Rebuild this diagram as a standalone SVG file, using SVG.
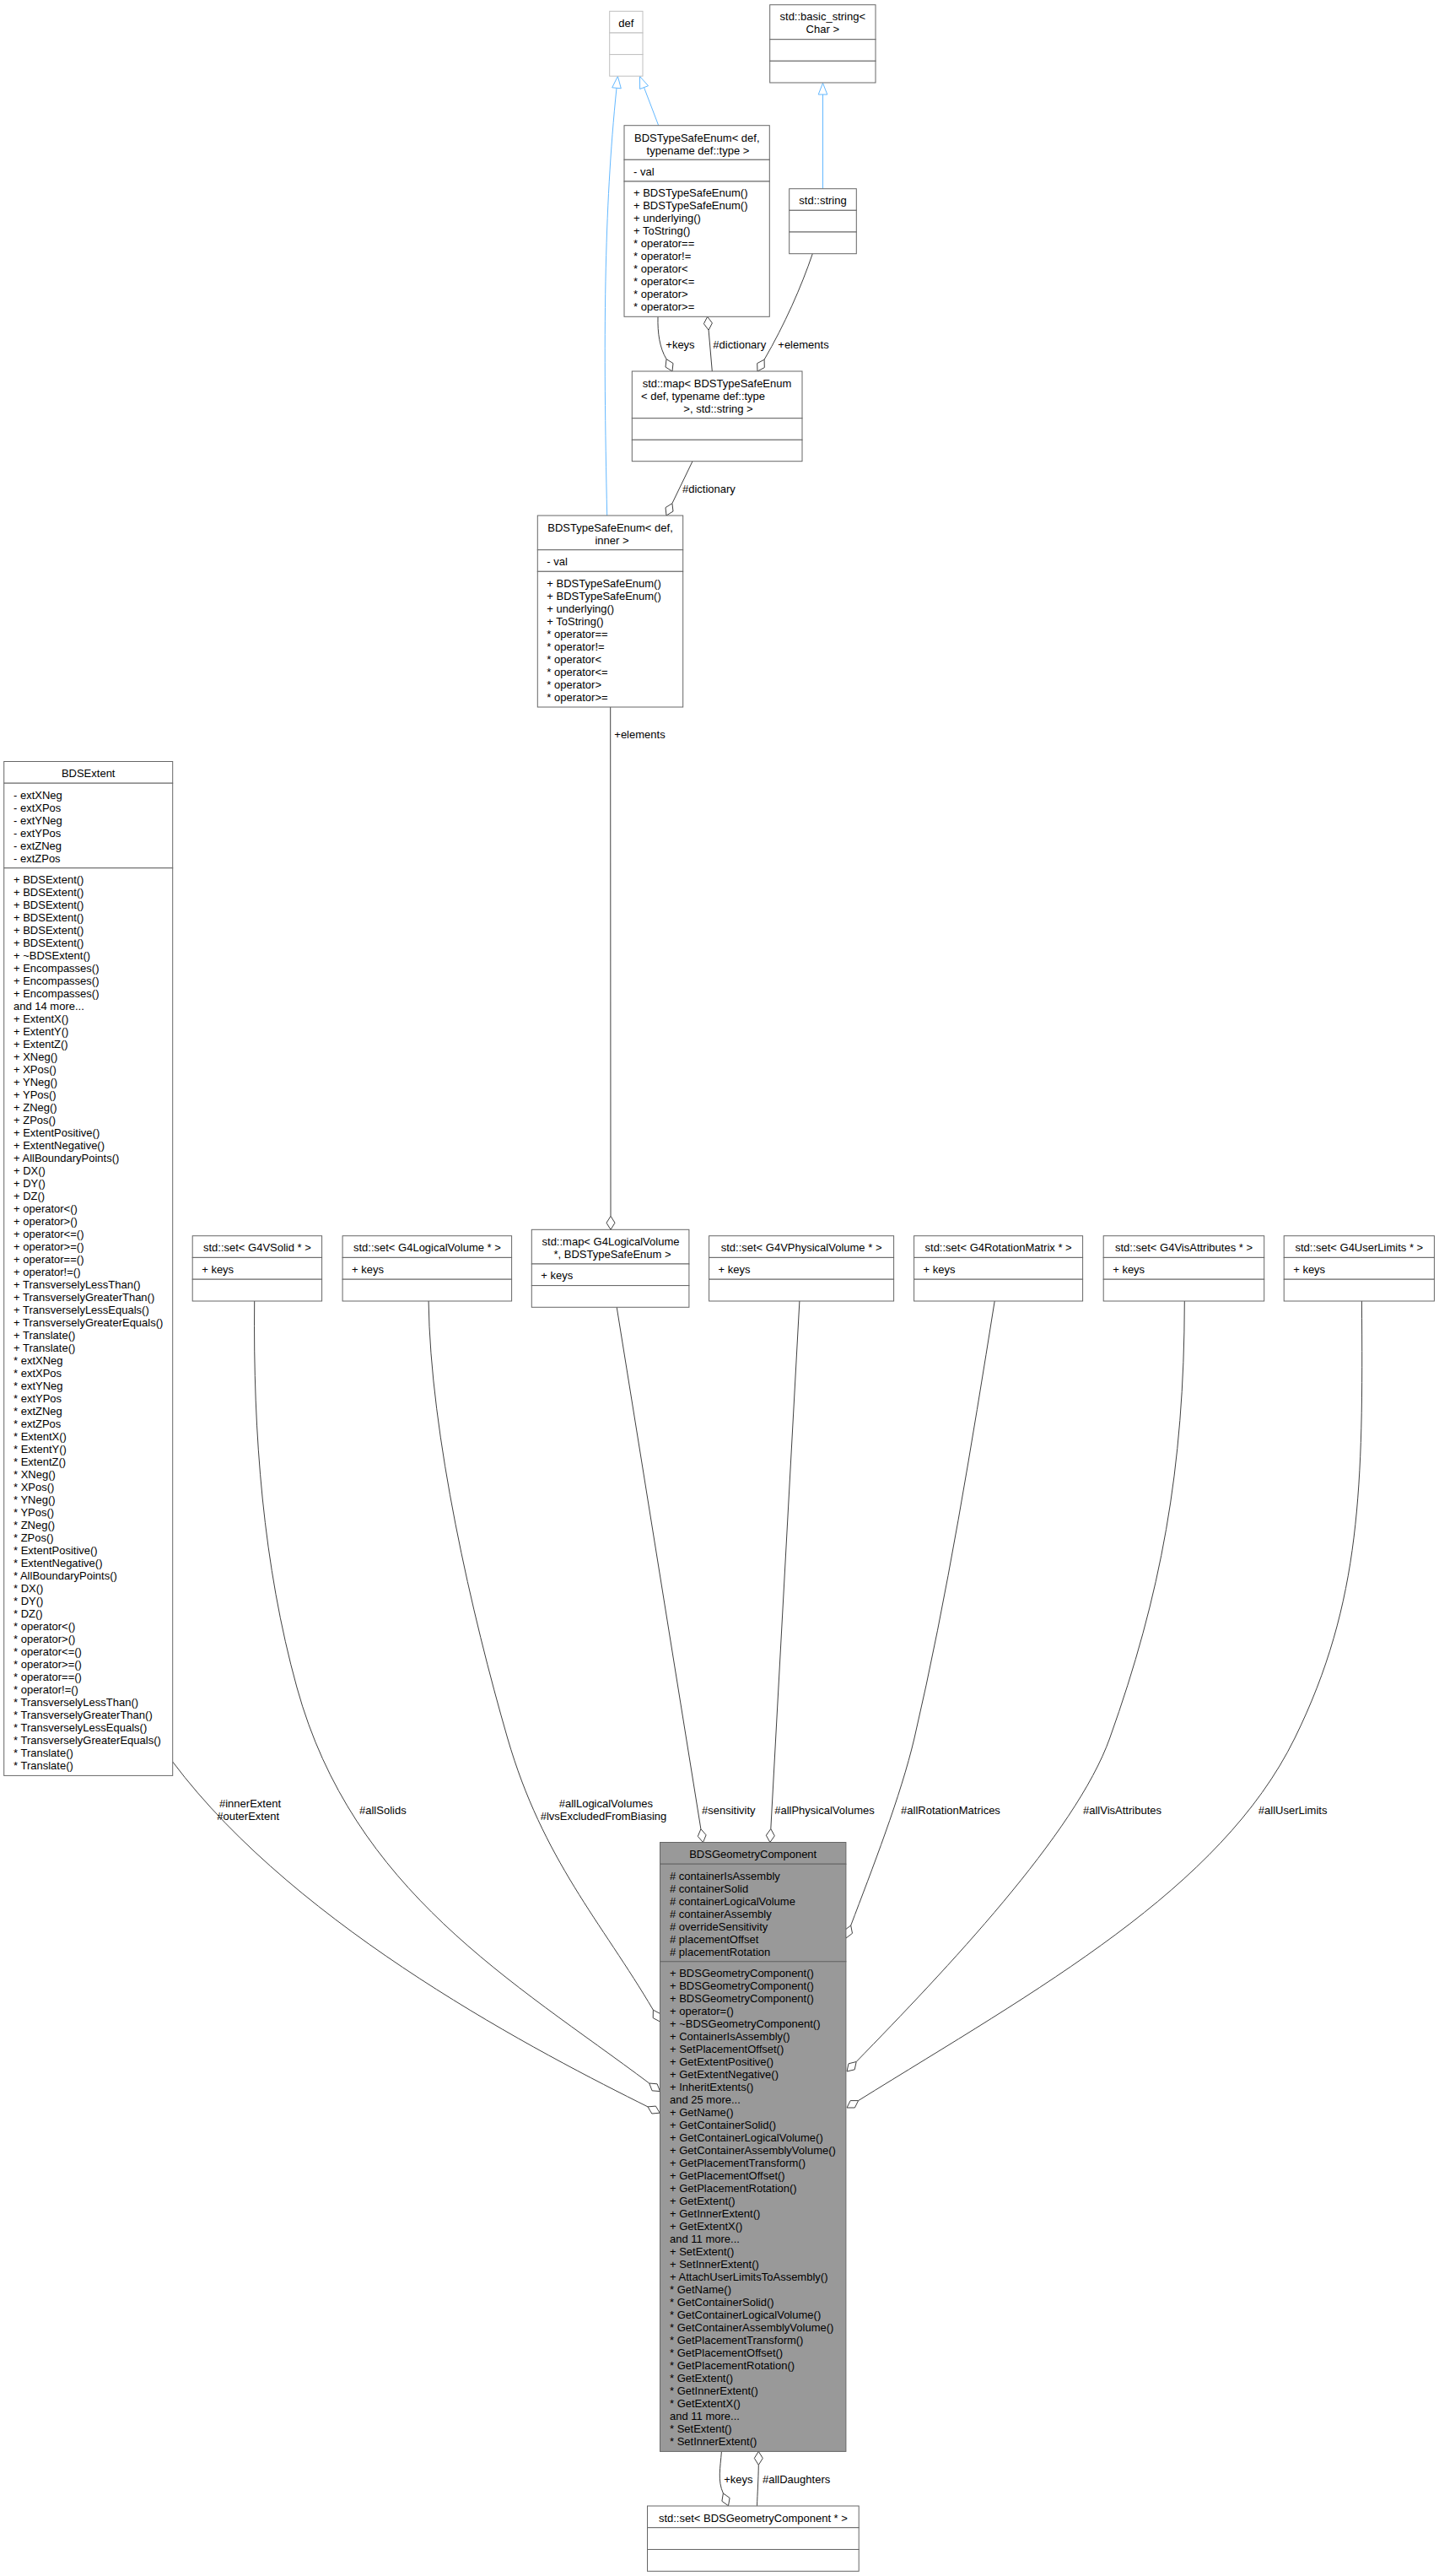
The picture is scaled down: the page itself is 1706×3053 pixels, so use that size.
<svg xmlns="http://www.w3.org/2000/svg" width="1706" height="3053" viewBox="0 0 1706 3053">
<style>
.bx{fill:#ffffff;stroke:#666666;stroke-width:1}
.bl{fill:#ffffff;stroke:#bfbfbf;stroke-width:1}
.bg{fill:#999999;stroke:#666666;stroke-width:1}
text{font-family:"Liberation Sans",Arial,Helvetica,sans-serif;font-size:13px;fill:#000000}
.c{text-anchor:middle}
.e{fill:none;stroke:#404040;stroke-width:1}
.i{fill:none;stroke:#63b8ff;stroke-width:1}
.d{fill:#ffffff;stroke:#404040;stroke-width:1}
.tr{fill:#ffffff;stroke:#63b8ff;stroke-width:1}
</style>
<rect x="0" y="0" width="1706" height="3053" fill="#ffffff"/>

<g id="connectors">
  <!-- inheritance -->
  <path class="i" d="M780.7,148.7 L763.5,103.6"/>
  <polygon class="tr" points="758.5,90.5 768.5,101.7 758.6,105.5"/>
  <path class="i" d="M719.7,611 C715,400 716,250 731,104.3"/>
  <polygon class="tr" points="732.4,90.4 736.3,104.8 725.7,103.8"/>
  <path class="i" d="M975.5,223.7 L975.5,112"/>
  <polygon class="tr" points="975.5,98.5 980.8,112 970.2,112"/>

  <!-- +keys upper -->
  <path class="e" d="M780,375.3 C779.5,395 782,412 790,425.6"/>
  <polygon class="d" points="797,440 798,430.6 790,425.6 789,435"/>
  <text x="789.3" y="412.7">+keys</text>
  <!-- #dictionary upper -->
  <path class="e" d="M840.1,391.2 L844.3,440"/>
  <polygon class="d" points="838.7,375.3 844.4,382.9 840.1,391.2 834.4,383.7"/>
  <text x="845.3" y="412.7">#dictionary</text>
  <!-- +elements upper -->
  <path class="e" d="M963.3,300.7 C950,340 930,385 906.1,426.2"/>
  <polygon class="d" points="898,440 906.3,435.6 906.1,426.2 897.7,430.6"/>
  <text x="922.3" y="412.7">+elements</text>
  <!-- #dictionary lower -->
  <path class="e" d="M821,546.7 L796.9,596.6"/>
  <polygon class="d" points="790,611 798,606 796.9,596.6 789,601.6"/>
  <text x="809" y="584.3">#dictionary</text>
  <!-- +elements lower -->
  <path class="e" d="M723.7,838 L724,1441.3"/>
  <polygon class="d" points="724,1457.3 729,1449.3 724,1441.3 719,1449.3"/>
  <text x="728.3" y="875">+elements</text>

  <!-- #innerExtent / #outerExtent -->
  <path class="e" d="M204.7,2088 C354.7,2288 648,2437 768,2496.9"/>
  <polygon class="d" points="782.2,2504.2 777.4,2496.1 768,2496.9 772.8,2505"/>
  <text x="260" y="2141.7">#innerExtent</text>
  <text x="257.3" y="2156.7">#outerExtent</text>
  <!-- #allSolids -->
  <path class="e" d="M301.7,1542 C300,1700 312,1855.4 352,2000 C418.5,2241 609.7,2349 769.7,2469"/>
  <polygon class="d" points="782.5,2478.6 779.1,2469.8 769.7,2469 773.1,2477.8"/>
  <text x="426" y="2149.5">#allSolids</text>
  <!-- #allLogicalVolumes -->
  <path class="e" d="M508.1,1542 C510,1700 560,1915.9 601.7,2060 C643.4,2204 713.7,2278.8 774.4,2382.2"/>
  <polygon class="d" points="782.5,2396 782.8,2386.6 774.4,2382.2 774.2,2391.6"/>
  <text x="662.7" y="2141.7">#allLogicalVolumes</text>
  <text x="640.7" y="2156.7">#lvsExcludedFromBiasing</text>
  <!-- #sensitivity -->
  <path class="e" d="M731.2,1549.3 L830.9,2167.7"/>
  <polygon class="d" points="833.5,2183.5 837.1,2174.8 830.9,2167.7 827.3,2176.4"/>
  <text x="832" y="2149.5">#sensitivity</text>
  <!-- #allPhysicalVolumes -->
  <path class="e" d="M947.9,1542 L913.8,2167.5"/>
  <polygon class="d" points="912.9,2183.5 918.3,2175.8 913.8,2167.5 908.3,2175.2"/>
  <text x="918.2" y="2149.5">#allPhysicalVolumes</text>
  <!-- #allRotationMatrices -->
  <path class="e" d="M1179.2,1542 C1152.3,1709.8 1122.6,1894.4 1084,2060 C1068.1,2128.2 1033.5,2216.5 1008.7,2282"/>
  <polygon class="d" points="1003,2297 1010.5,2291.3 1008.7,2282 1001.1,2287.7"/>
  <text x="1068.1" y="2150">#allRotationMatrices</text>
  <!-- #allVisAttributes -->
  <path class="e" d="M1404.3,1542 C1404,1742 1376.2,1890.4 1315.7,2060 C1275.4,2173 1119.8,2336 1015.2,2443.5"/>
  <polygon class="d" points="1004,2455 1013.2,2452.8 1015.2,2443.5 1006,2445.8"/>
  <text x="1284" y="2150">#allVisAttributes</text>
  <!-- #allUserLimits -->
  <path class="e" d="M1614.4,1542 C1616,1760 1614.4,1898.4 1535,2060 C1446.8,2239.6 1229.9,2357.6 1017.6,2489.6"/>
  <polygon class="d" points="1004,2498 1013.4,2498 1017.6,2489.6 1008.2,2489.6"/>
  <text x="1491.8" y="2150">#allUserLimits</text>

  <!-- +keys bottom -->
  <path class="e" d="M855.4,2905.4 C854,2925 850.5,2940 857.4,2955"/>
  <polygon class="d" points="863.5,2969.8 865.1,2960.5 857.4,2955 855.9,2964.3"/>
  <text x="858.2" y="2942.7">+keys</text>
  <!-- #allDaughters -->
  <path class="e" d="M899.3,2921.4 C899,2940 898,2955 897.5,2969.8"/>
  <polygon class="d" points="899.3,2905.4 904.3,2913.4 899.3,2921.4 894.3,2913.4"/>
  <text x="904" y="2942.7">#allDaughters</text>
</g>

<g id="node-def">
  <rect class="bl" x="722.7" y="13.3" width="39.3" height="25.7"/>
  <rect class="bl" x="722.7" y="39" width="39.3" height="25.6"/>
  <rect class="bl" x="722.7" y="64.6" width="39.3" height="25.6"/>
  <text class="c" x="742.3" y="31.7">def</text>
</g>

<g id="node-basic-string">
  <rect class="bx" x="912.7" y="5.7" width="125.3" height="41"/>
  <rect class="bx" x="912.7" y="46.7" width="125.3" height="25.6"/>
  <rect class="bx" x="912.7" y="72.3" width="125.3" height="25.7"/>
  <text class="c" x="975.3" y="24.2">std::basic_string&lt;</text>
  <text class="c" x="975.3" y="39.2">Char &gt;</text>
</g>

<g id="node-enum-typename">
  <rect class="bx" x="740" y="148.7" width="172.3" height="40.6"/>
  <rect class="bx" x="740" y="189.3" width="172.3" height="25.7"/>
  <rect class="bx" x="740" y="215" width="172.3" height="160.3"/>
  <text class="c" x="826.3" y="167.5">BDSTypeSafeEnum&lt; def,</text>
  <text class="c" x="827.5" y="182.5">typename def::type &gt;</text>
  <text x="751" y="207.7">- val</text>
  <text x="751" y="233.3">+ BDSTypeSafeEnum()<tspan x="751" dy="15">+ BDSTypeSafeEnum()</tspan><tspan x="751" dy="15">+ underlying()</tspan><tspan x="751" dy="15">+ ToString()</tspan><tspan x="751" dy="15">* operator==</tspan><tspan x="751" dy="15">* operator!=</tspan><tspan x="751" dy="15">* operator&lt;</tspan><tspan x="751" dy="15">* operator&lt;=</tspan><tspan x="751" dy="15">* operator&gt;</tspan><tspan x="751" dy="15">* operator&gt;=</tspan></text>
</g>

<g id="node-std-string">
  <rect class="bx" x="935.7" y="223.7" width="79.6" height="25.6"/>
  <rect class="bx" x="935.7" y="249.3" width="79.6" height="25.7"/>
  <rect class="bx" x="935.7" y="275" width="79.6" height="25.7"/>
  <text class="c" x="975.5" y="242.2">std::string</text>
</g>

<g id="node-map-enum-string">
  <rect class="bx" x="749.3" y="440" width="201.7" height="55.7"/>
  <rect class="bx" x="749.3" y="495.7" width="201.7" height="25.6"/>
  <rect class="bx" x="749.3" y="521.3" width="201.7" height="25.4"/>
  <text class="c" x="850" y="458.5">std::map&lt; BDSTypeSafeEnum</text>
  <text x="760" y="473.5">&lt; def, typename def::type</text>
  <text class="c" x="851.5" y="488.5">&gt;, std::string &gt;</text>
</g>

<g id="node-enum-inner">
  <rect class="bx" x="637.3" y="611" width="172.4" height="40.7"/>
  <rect class="bx" x="637.3" y="651.7" width="172.4" height="25.6"/>
  <rect class="bx" x="637.3" y="677.3" width="172.4" height="160.7"/>
  <text class="c" x="723.5" y="629.5">BDSTypeSafeEnum&lt; def,</text>
  <text class="c" x="725.5" y="644.5">inner &gt;</text>
  <text x="648.3" y="670">- val</text>
  <text x="648.3" y="696">+ BDSTypeSafeEnum()<tspan x="648.3" dy="15">+ BDSTypeSafeEnum()</tspan><tspan x="648.3" dy="15">+ underlying()</tspan><tspan x="648.3" dy="15">+ ToString()</tspan><tspan x="648.3" dy="15">* operator==</tspan><tspan x="648.3" dy="15">* operator!=</tspan><tspan x="648.3" dy="15">* operator&lt;</tspan><tspan x="648.3" dy="15">* operator&lt;=</tspan><tspan x="648.3" dy="15">* operator&gt;</tspan><tspan x="648.3" dy="15">* operator&gt;=</tspan></text>
</g>

<g id="node-bdsextent">
  <rect class="bx" x="4.7" y="902.5" width="200" height="25.7"/>
  <rect class="bx" x="4.7" y="928.2" width="200" height="100.6"/>
  <rect class="bx" x="4.7" y="1028.8" width="200" height="1075.6"/>
  <text class="c" x="104.7" y="921">BDSExtent</text>
  <text x="16" y="946.5">- extXNeg<tspan x="16" dy="15">- extXPos</tspan><tspan x="16" dy="15">- extYNeg</tspan><tspan x="16" dy="15">- extYPos</tspan><tspan x="16" dy="15">- extZNeg</tspan><tspan x="16" dy="15">- extZPos</tspan></text>
  <text x="16" y="1047.1">+ BDSExtent()<tspan x="16" dy="15">+ BDSExtent()</tspan><tspan x="16" dy="15">+ BDSExtent()</tspan><tspan x="16" dy="15">+ BDSExtent()</tspan><tspan x="16" dy="15">+ BDSExtent()</tspan><tspan x="16" dy="15">+ BDSExtent()</tspan><tspan x="16" dy="15">+ ~BDSExtent()</tspan><tspan x="16" dy="15">+ Encompasses()</tspan><tspan x="16" dy="15">+ Encompasses()</tspan><tspan x="16" dy="15">+ Encompasses()</tspan><tspan x="16" dy="15">and 14 more...</tspan><tspan x="16" dy="15">+ ExtentX()</tspan><tspan x="16" dy="15">+ ExtentY()</tspan><tspan x="16" dy="15">+ ExtentZ()</tspan><tspan x="16" dy="15">+ XNeg()</tspan><tspan x="16" dy="15">+ XPos()</tspan><tspan x="16" dy="15">+ YNeg()</tspan><tspan x="16" dy="15">+ YPos()</tspan><tspan x="16" dy="15">+ ZNeg()</tspan><tspan x="16" dy="15">+ ZPos()</tspan><tspan x="16" dy="15">+ ExtentPositive()</tspan><tspan x="16" dy="15">+ ExtentNegative()</tspan><tspan x="16" dy="15">+ AllBoundaryPoints()</tspan><tspan x="16" dy="15">+ DX()</tspan><tspan x="16" dy="15">+ DY()</tspan><tspan x="16" dy="15">+ DZ()</tspan><tspan x="16" dy="15">+ operator&lt;()</tspan><tspan x="16" dy="15">+ operator&gt;()</tspan><tspan x="16" dy="15">+ operator&lt;=()</tspan><tspan x="16" dy="15">+ operator&gt;=()</tspan><tspan x="16" dy="15">+ operator==()</tspan><tspan x="16" dy="15">+ operator!=()</tspan><tspan x="16" dy="15">+ TransverselyLessThan()</tspan><tspan x="16" dy="15">+ TransverselyGreaterThan()</tspan><tspan x="16" dy="15">+ TransverselyLessEquals()</tspan><tspan x="16" dy="15">+ TransverselyGreaterEquals()</tspan><tspan x="16" dy="15">+ Translate()</tspan><tspan x="16" dy="15">+ Translate()</tspan><tspan x="16" dy="15">* extXNeg</tspan><tspan x="16" dy="15">* extXPos</tspan><tspan x="16" dy="15">* extYNeg</tspan><tspan x="16" dy="15">* extYPos</tspan><tspan x="16" dy="15">* extZNeg</tspan><tspan x="16" dy="15">* extZPos</tspan><tspan x="16" dy="15">* ExtentX()</tspan><tspan x="16" dy="15">* ExtentY()</tspan><tspan x="16" dy="15">* ExtentZ()</tspan><tspan x="16" dy="15">* XNeg()</tspan><tspan x="16" dy="15">* XPos()</tspan><tspan x="16" dy="15">* YNeg()</tspan><tspan x="16" dy="15">* YPos()</tspan><tspan x="16" dy="15">* ZNeg()</tspan><tspan x="16" dy="15">* ZPos()</tspan><tspan x="16" dy="15">* ExtentPositive()</tspan><tspan x="16" dy="15">* ExtentNegative()</tspan><tspan x="16" dy="15">* AllBoundaryPoints()</tspan><tspan x="16" dy="15">* DX()</tspan><tspan x="16" dy="15">* DY()</tspan><tspan x="16" dy="15">* DZ()</tspan><tspan x="16" dy="15">* operator&lt;()</tspan><tspan x="16" dy="15">* operator&gt;()</tspan><tspan x="16" dy="15">* operator&lt;=()</tspan><tspan x="16" dy="15">* operator&gt;=()</tspan><tspan x="16" dy="15">* operator==()</tspan><tspan x="16" dy="15">* operator!=()</tspan><tspan x="16" dy="15">* TransverselyLessThan()</tspan><tspan x="16" dy="15">* TransverselyGreaterThan()</tspan><tspan x="16" dy="15">* TransverselyLessEquals()</tspan><tspan x="16" dy="15">* TransverselyGreaterEquals()</tspan><tspan x="16" dy="15">* Translate()</tspan><tspan x="16" dy="15">* Translate()</tspan></text>
</g>

<g id="node-set-g4vsolid">
  <rect class="bx" x="228.2" y="1464.7" width="153.4" height="25.7"/>
  <rect class="bx" x="228.2" y="1490.4" width="153.4" height="25.8"/>
  <rect class="bx" x="228.2" y="1516.2" width="153.4" height="25.8"/>
  <text class="c" x="304.9" y="1483.2">std::set&lt; G4VSolid * &gt;</text>
  <text x="239.2" y="1508.9">+ keys</text>
</g>

<g id="node-set-g4logicalvolume">
  <rect class="bx" x="406.1" y="1464.7" width="200.5" height="25.7"/>
  <rect class="bx" x="406.1" y="1490.4" width="200.5" height="25.8"/>
  <rect class="bx" x="406.1" y="1516.2" width="200.5" height="25.8"/>
  <text class="c" x="506.4" y="1483.2">std::set&lt; G4LogicalVolume * &gt;</text>
  <text x="417.1" y="1508.9">+ keys</text>
</g>

<g id="node-map-g4lv-enum">
  <rect class="bx" x="630.3" y="1457.3" width="186.6" height="40.7"/>
  <rect class="bx" x="630.3" y="1498" width="186.6" height="25.6"/>
  <rect class="bx" x="630.3" y="1523.6" width="186.6" height="25.7"/>
  <text class="c" x="724" y="1476">std::map&lt; G4LogicalVolume</text>
  <text class="c" x="726" y="1491">*, BDSTypeSafeEnum &gt;</text>
  <text x="641.3" y="1516.3">+ keys</text>
</g>

<g id="node-set-g4vphysicalvolume">
  <rect class="bx" x="840.6" y="1464.7" width="219" height="25.7"/>
  <rect class="bx" x="840.6" y="1490.4" width="219" height="25.8"/>
  <rect class="bx" x="840.6" y="1516.2" width="219" height="25.8"/>
  <text class="c" x="950.1" y="1483.2">std::set&lt; G4VPhysicalVolume * &gt;</text>
  <text x="851.6" y="1508.9">+ keys</text>
</g>

<g id="node-set-g4rotationmatrix">
  <rect class="bx" x="1083.6" y="1464.7" width="200" height="25.7"/>
  <rect class="bx" x="1083.6" y="1490.4" width="200" height="25.8"/>
  <rect class="bx" x="1083.6" y="1516.2" width="200" height="25.8"/>
  <text class="c" x="1183.6" y="1483.2">std::set&lt; G4RotationMatrix * &gt;</text>
  <text x="1094.6" y="1508.9">+ keys</text>
</g>

<g id="node-set-g4visattributes">
  <rect class="bx" x="1308.2" y="1464.7" width="190.5" height="25.7"/>
  <rect class="bx" x="1308.2" y="1490.4" width="190.5" height="25.8"/>
  <rect class="bx" x="1308.2" y="1516.2" width="190.5" height="25.8"/>
  <text class="c" x="1403.5" y="1483.2">std::set&lt; G4VisAttributes * &gt;</text>
  <text x="1319.2" y="1508.9">+ keys</text>
</g>

<g id="node-set-g4userlimits">
  <rect class="bx" x="1522.2" y="1464.7" width="178.2" height="25.7"/>
  <rect class="bx" x="1522.2" y="1490.4" width="178.2" height="25.8"/>
  <rect class="bx" x="1522.2" y="1516.2" width="178.2" height="25.8"/>
  <text class="c" x="1611.3" y="1483.2">std::set&lt; G4UserLimits * &gt;</text>
  <text x="1533.2" y="1508.9">+ keys</text>
</g>

<g id="node-bdsgeometrycomponent">
  <rect class="bg" x="782.5" y="2183.5" width="220.4" height="25.7"/>
  <rect class="bg" x="782.5" y="2209.2" width="220.4" height="115.6"/>
  <rect class="bg" x="782.5" y="2324.8" width="220.4" height="580.6"/>
  <text class="c" x="892.7" y="2202">BDSGeometryComponent</text>
  <text x="794" y="2227.5"># containerIsAssembly<tspan x="794" dy="15"># containerSolid</tspan><tspan x="794" dy="15"># containerLogicalVolume</tspan><tspan x="794" dy="15"># containerAssembly</tspan><tspan x="794" dy="15"># overrideSensitivity</tspan><tspan x="794" dy="15"># placementOffset</tspan><tspan x="794" dy="15"># placementRotation</tspan></text>
  <text x="794" y="2343.1">+ BDSGeometryComponent()<tspan x="794" dy="15">+ BDSGeometryComponent()</tspan><tspan x="794" dy="15">+ BDSGeometryComponent()</tspan><tspan x="794" dy="15">+ operator=()</tspan><tspan x="794" dy="15">+ ~BDSGeometryComponent()</tspan><tspan x="794" dy="15">+ ContainerIsAssembly()</tspan><tspan x="794" dy="15">+ SetPlacementOffset()</tspan><tspan x="794" dy="15">+ GetExtentPositive()</tspan><tspan x="794" dy="15">+ GetExtentNegative()</tspan><tspan x="794" dy="15">+ InheritExtents()</tspan><tspan x="794" dy="15">and 25 more...</tspan><tspan x="794" dy="15">+ GetName()</tspan><tspan x="794" dy="15">+ GetContainerSolid()</tspan><tspan x="794" dy="15">+ GetContainerLogicalVolume()</tspan><tspan x="794" dy="15">+ GetContainerAssemblyVolume()</tspan><tspan x="794" dy="15">+ GetPlacementTransform()</tspan><tspan x="794" dy="15">+ GetPlacementOffset()</tspan><tspan x="794" dy="15">+ GetPlacementRotation()</tspan><tspan x="794" dy="15">+ GetExtent()</tspan><tspan x="794" dy="15">+ GetInnerExtent()</tspan><tspan x="794" dy="15">+ GetExtentX()</tspan><tspan x="794" dy="15">and 11 more...</tspan><tspan x="794" dy="15">+ SetExtent()</tspan><tspan x="794" dy="15">+ SetInnerExtent()</tspan><tspan x="794" dy="15">+ AttachUserLimitsToAssembly()</tspan><tspan x="794" dy="15">* GetName()</tspan><tspan x="794" dy="15">* GetContainerSolid()</tspan><tspan x="794" dy="15">* GetContainerLogicalVolume()</tspan><tspan x="794" dy="15">* GetContainerAssemblyVolume()</tspan><tspan x="794" dy="15">* GetPlacementTransform()</tspan><tspan x="794" dy="15">* GetPlacementOffset()</tspan><tspan x="794" dy="15">* GetPlacementRotation()</tspan><tspan x="794" dy="15">* GetExtent()</tspan><tspan x="794" dy="15">* GetInnerExtent()</tspan><tspan x="794" dy="15">* GetExtentX()</tspan><tspan x="794" dy="15">and 11 more...</tspan><tspan x="794" dy="15">* SetExtent()</tspan><tspan x="794" dy="15">* SetInnerExtent()</tspan></text>
</g>

<g id="node-set-bdsgeometrycomponent">
  <rect class="bx" x="767.5" y="2970" width="250.7" height="25.7"/>
  <rect class="bx" x="767.5" y="2995.7" width="250.7" height="25.8"/>
  <rect class="bx" x="767.5" y="3021.5" width="250.7" height="25.8"/>
  <text class="c" x="892.9" y="2988.5">std::set&lt; BDSGeometryComponent * &gt;</text>
</g>
</svg>
